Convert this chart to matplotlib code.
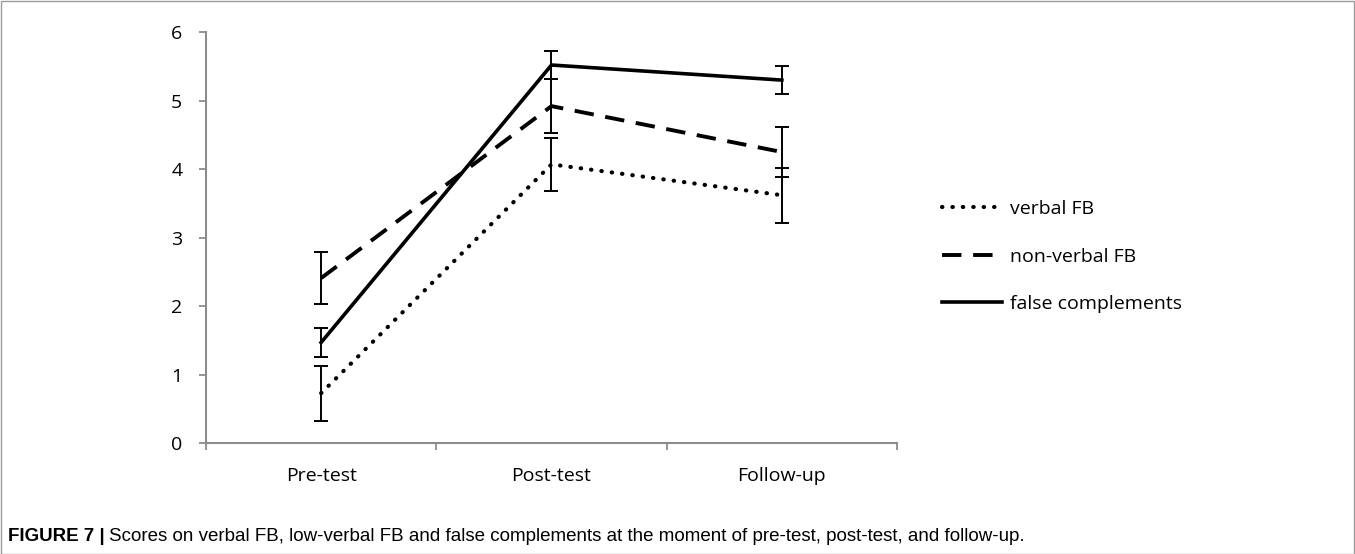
import matplotlib.pyplot as plt
from matplotlib.lines import Line2D
from matplotlib.patches import Rectangle

# data
phases = ['Pre-test', 'Post-test', 'Follow-up']
verbal_fb = [0.73, 4.07, 3.62]
verbal_err = [0.40, 0.39, 0.40]
nonverbal_fb = [2.41, 4.92, 4.25]
nonverbal_err = [0.38, 0.39, 0.36]
false_compl = [1.47, 5.52, 5.30]
false_err = [0.21, 0.20, 0.21]
labels = ['verbal FB', 'non-verbal FB', 'false complements']

plt.rcParams['font.family'] = ['Open Sans', 'DejaVu Sans']

fig = plt.figure(figsize=(13.55, 5.54), dpi=100)
ax = fig.add_axes([0.152, 0.200, 0.510, 0.742])

dotted = dict(linestyle=(0, (0.1, 2.4)), linewidth=3.0, dash_capstyle='round')
dashed = dict(linestyle=(0, (5, 3)), linewidth=2.8)
solid = dict(linestyle='-', linewidth=2.6)

x = list(range(len(phases)))
series = [
    (verbal_fb, verbal_err, dotted),
    (nonverbal_fb, nonverbal_err, dashed),
    (false_compl, false_err, solid),
]
for (vals, err, style), label in zip(series, labels):
    ax.errorbar(x, vals, yerr=err, fmt='none', ecolor='black', elinewidth=1.4,
                capsize=5, capthick=1.4, zorder=2)
    ax.plot(x, vals, color='black', label=label, zorder=3, **style)

ax.set_xlim(-0.5, 2.5)
ax.set_ylim(0, 6)
ax.set_yticks(range(0, 7))
ax.set_xticks(x)
ax.set_xticklabels(phases)
ax.set_xticks([-0.5, 0.5, 1.5, 2.5], minor=True)
ax.tick_params(axis='x', which='major', length=0, pad=17, labelsize=14)
ax.tick_params(axis='x', which='minor', length=5, width=1.3, color='#8c8c8c', direction='out')
ax.tick_params(axis='y', length=5, width=1.3, color='#8c8c8c', direction='out', labelsize=14, pad=12)
for s in ['top', 'right']:
    ax.spines[s].set_visible(False)
for s in ['left', 'bottom']:
    ax.spines[s].set_color('#8c8c8c')
    ax.spines[s].set_linewidth(1.5)

leg_handles = [Line2D([], [], color='black', **st) for st in (dotted, dashed, solid)]
fig.legend(leg_handles, labels, loc='upper left',
           bbox_to_anchor=(0.682, 0.671), frameon=False, fontsize=14,
           handlelength=3.1, handletextpad=0.4, labelspacing=1.53)

# outer border
fig.patches.append(Rectangle((0.0005, 0.0005), 0.999, 0.998, transform=fig.transFigure,
                             fill=False, edgecolor='#9a9a9a', linewidth=1.0))

cap_font = ['Liberation Sans', 'DejaVu Sans']
t1 = fig.text(0.006, 0.032, 'FIGURE 7 |', fontsize=13.5, fontweight='bold',
              family=cap_font, va='center')
fig.canvas.draw()
bb = t1.get_window_extent().transformed(fig.transFigure.inverted())
fig.text(bb.x1 + 0.003, 0.032,
         'Scores on verbal FB, low-verbal FB and false complements at the moment of pre-test, post-test, and follow-up.',
         fontsize=13.5, family=cap_font, va='center')

fig.savefig('out.png', dpi=100, facecolor='white')
